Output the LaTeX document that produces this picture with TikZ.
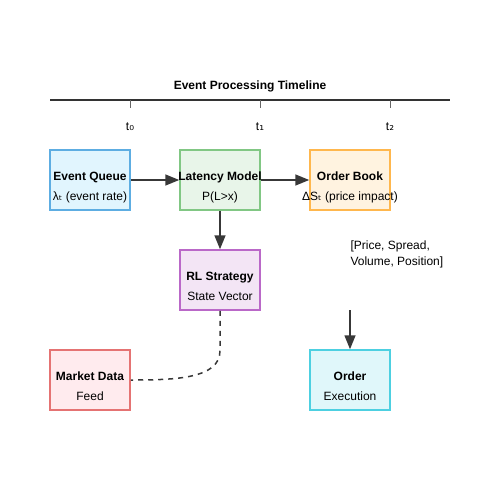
\documentclass[tikz,border=0pt]{standalone}
\usepackage{fontspec}
\setmainfont{Liberation Sans}
\newfontfamily\subfont{DejaVu Sans}
\usetikzlibrary{arrows.meta,calc}
\definecolor{eqline}{RGB}{93,173,226}
\definecolor{eqfill}{RGB}{225,245,254}
\definecolor{lmline}{RGB}{129,199,132}
\definecolor{lmfill}{RGB}{232,245,233}
\definecolor{obline}{RGB}{255,183,77}
\definecolor{obfill}{RGB}{255,243,224}
\definecolor{rlline}{RGB}{186,104,200}
\definecolor{rlfill}{RGB}{243,229,245}
\definecolor{mdline}{RGB}{229,115,115}
\definecolor{mdfill}{RGB}{255,235,238}
\definecolor{oeline}{RGB}{77,208,225}
\definecolor{oefill}{RGB}{224,247,250}
\definecolor{inkline}{RGB}{56,56,56}
\tikzset{every picture/.style={line width=1pt}}
\tikzset{
  box/.style={draw, line width=1.5pt, minimum width=80pt, minimum height=60pt, inner sep=0pt},
  head/.style={anchor=base, inner sep=0pt, font=\fontsize{12pt}{14pt}\selectfont\bfseries},
  sub/.style={anchor=base, inner sep=0pt, font=\fontsize{12pt}{14pt}\selectfont},
  flow/.style={draw=inkline, line width=1.5pt, -{Triangle[length=14pt,width=11pt]}}
}

\begin{document}
\begin{tikzpicture}[x=1pt,y=1pt,yscale=-1,xscale=1]
\useasboundingbox (0,0) rectangle (500,500);

%Timeline
\coordinate (tlA) at (50,100);
\coordinate (tlB) at (450,100);
\draw [color=black!80, line width=2pt] (tlA) -- (tlB);
\node [head] (tltitle) at (250,90) {Event Processing Timeline};
% Ticks
\foreach \x/\n/\s in {130/tka/₀,260/tkb/₁,390/tkc/₂}{
  \coordinate (\n) at (\x,100);
  \draw [color=black!60] (\n) -- ++(0,8);
  \node [sub] (\n lbl) at (\x,130) {t{\subfont\s}};
}

%Shape: Boxes
\node [box, draw=eqline, fill=eqfill] (evq) at (90,180) {};
\node [box, draw=lmline, fill=lmfill] (lat) at (220,180) {};
\node [box, draw=obline, fill=obfill] (obk) at (350,180) {};
\node [box, draw=rlline, fill=rlfill] (rls) at (220,280) {};
\node [box, draw=mdline, fill=mdfill] (mkt) at (90,380) {};
\node [box, draw=oeline, fill=oefill] (ord) at (350,380) {};

% Text Node
\node [head] (evqh) at (evq.center) {Event Queue};
\node [sub] (evqs) at ($(evq.center)+(0,20)$) {λ{\subfont ₜ} (event rate)};
\node [head] (lath) at (lat.center) {Latency Model};
\node [sub] (lats) at ($(lat.center)+(0,20)$) {P(L>x)};
\node [head] (obkh) at (obk.center) {Order Book};
\node [sub] (obks) at ($(obk.center)+(0,20)$) {ΔS{\subfont ₜ} (price impact)};
\node [head] (rlsh) at (rls.center) {RL Strategy};
\node [sub] (rlss) at ($(rls.center)+(0,20)$) {State Vector};
\node [head] (mkth) at (mkt.center) {Market Data};
\node [sub] (mkts) at ($(mkt.center)+(0,20)$) {Feed};
\node [head] (ordh) at (ord.center) {Order};
\node [sub] (ords) at ($(ord.center)+(0,20)$) {Execution};
\node [sub, anchor=base west] (vec) at (350,249) {[Price, Spread,};
\node [sub, anchor=base west] (vecb) at (350,265) {Volume, Position]};

%Connectors
\draw [flow] (evq.east) -- (lat.west);
\draw [flow] (lat.east) -- (obk.west);
\draw [flow] (lat.south) -- (rls.north);
\coordinate (ordin) at (350,310);
\draw [flow] (ordin) -- (ord.north);
\draw [draw=inkline, line width=1.5pt, dash pattern=on 5pt off 5pt] (rls.south) -- ++(0,40) .. controls +(0,28) and (175,380) .. (mkt.east);
\end{tikzpicture}
\end{document}
